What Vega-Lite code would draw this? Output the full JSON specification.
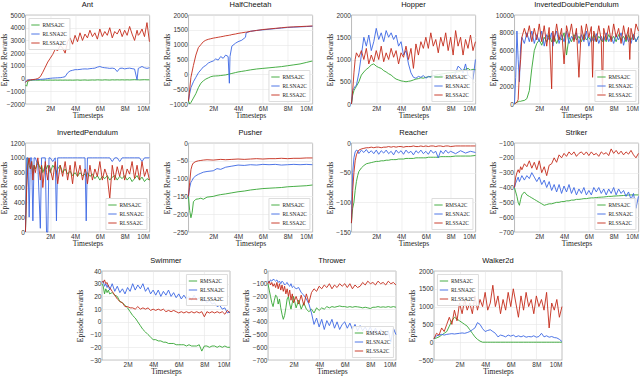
{
"$schema":"https://vega.github.io/schema/vega-lite/v6.json",
"padding":{"left":0,"top":0,"right":2,"bottom":0},
"spacing":8,"center":true,
"resolve":{"scale":{"x":"independent","y":"independent","color":"independent"},"legend":{"color":"independent"}},
"config":{
"view":{"stroke":"#8a8a8a","strokeWidth":0.6},
"title":{"fontSize":7.5,"fontWeight":"normal","font":"Liberation Sans","offset":0,"color":"#111"},
"axis":{"labelFontSize":6.5,"labelFont":"Liberation Sans","labelColor":"#333","titleFont":"Liberation Serif","titleFontSize":7.5,"titleFontWeight":"normal","titleColor":"#222","gridColor":"#e6e6e6","gridWidth":0.6,"domain":false,"ticks":false,"labelPadding":1,"titlePadding":0},
"axisY":{"minExtent":17,"maxExtent":17,"labelPadding":1,"titlePadding":0},
"legend":{"labelFont":"Liberation Serif","labelFontSize":5.5,"labelColor":"#222","symbolType":"stroke","symbolSize":70,"symbolStrokeWidth":1.3,"rowPadding":0,"padding":2,"offset":3,"labelOffset":2,"fillColor":"rgba(255,255,255,0.85)","strokeColor":"#ddd"},
"line":{"strokeWidth":0.9}
},
"datasets":{
"ant":[{"x":0,"m":-500,"n":-300,"s":-300},{"x":0.1,"m":-600,"n":-150,"s":-200},{"x":0.2,"m":-200,"n":-100,"s":-150},{"x":0.4,"m":-150,"n":-100,"s":-100},{"x":0.6,"m":-120,"n":-100,"s":-80},{"x":0.8,"m":-120,"n":-90,"s":-50},{"x":1,"m":-130,"n":-80,"s":0},{"x":1.2,"m":-120,"n":-60,"s":150},{"x":1.4,"m":-130,"n":-50,"s":500},{"x":1.6,"m":-120,"n":-30,"s":900},{"x":1.8,"m":-130,"n":0,"s":1300},{"x":2,"m":-120,"n":20,"s":1600},{"x":2.2,"m":-130,"n":40,"s":1900},{"x":2.4,"m":-120,"n":50,"s":2300},{"x":2.6,"m":-130,"n":60,"s":2200},{"x":2.8,"m":-120,"n":70,"s":2600},{"x":3,"m":-130,"n":100,"s":2400},{"x":3.2,"m":-120,"n":150,"s":2000},{"x":3.4,"m":-130,"n":450,"s":2900},{"x":3.6,"m":-120,"n":600,"s":3200},{"x":3.8,"m":-130,"n":650,"s":2700},{"x":4,"m":-120,"n":700,"s":3400},{"x":4.2,"m":-110,"n":700,"s":2900},{"x":4.4,"m":-130,"n":720,"s":3600},{"x":4.6,"m":-120,"n":750,"s":3000},{"x":4.8,"m":-110,"n":760,"s":3500},{"x":5,"m":-130,"n":750,"s":3200},{"x":5.2,"m":-120,"n":780,"s":3800},{"x":5.4,"m":-110,"n":800,"s":3300},{"x":5.6,"m":-120,"n":820,"s":3600},{"x":5.8,"m":-100,"n":900,"s":3100},{"x":6,"m":-110,"n":950,"s":3900},{"x":6.2,"m":-120,"n":880,"s":3300},{"x":6.4,"m":-100,"n":850,"s":3700},{"x":6.6,"m":-110,"n":830,"s":3400},{"x":6.8,"m":-120,"n":800,"s":4000},{"x":7,"m":-100,"n":820,"s":3200},{"x":7.2,"m":-110,"n":780,"s":3700},{"x":7.4,"m":-100,"n":550,"s":3500},{"x":7.6,"m":-110,"n":800,"s":3900},{"x":7.8,"m":-100,"n":820,"s":3300},{"x":8,"m":-110,"n":760,"s":3800},{"x":8.2,"m":-100,"n":800,"s":3400},{"x":8.4,"m":-110,"n":820,"s":4100},{"x":8.6,"m":-100,"n":780,"s":3500},{"x":8.8,"m":-90,"n":750,"s":3000},{"x":9,"m":-100,"n":-100,"s":3800},{"x":9.1,"m":-100,"n":800,"s":3400},{"x":9.2,"m":-110,"n":850,"s":3500},{"x":9.4,"m":-100,"n":950,"s":3900},{"x":9.6,"m":-90,"n":850,"s":3300},{"x":9.8,"m":-100,"n":800,"s":4400},{"x":10,"m":-100,"n":850,"s":2900}],
"hc":[{"x":0,"m":-900,"n":-900,"s":-900},{"x":0.1,"m":-1000,"n":-650,"s":-500},{"x":0.2,"m":-950,"n":-450,"s":-100},{"x":0.4,"m":-800,"n":-250,"s":300},{"x":0.6,"m":-650,"n":-100,"s":650},{"x":0.8,"m":-450,"n":50,"s":900},{"x":1,"m":-300,"n":150,"s":1000},{"x":1.2,"m":-220,"n":250,"s":1100},{"x":1.4,"m":-160,"n":300,"s":1150},{"x":1.6,"m":-120,"n":380,"s":1180},{"x":1.8,"m":-80,"n":420,"s":1200},{"x":2,"m":-60,"n":450,"s":1220},{"x":2.2,"m":-55,"n":520,"s":1235},{"x":2.4,"m":-50,"n":480,"s":1250},{"x":2.6,"m":-40,"n":600,"s":1265},{"x":2.8,"m":-30,"n":540,"s":1280},{"x":3,"m":-20,"n":650,"s":1300},{"x":3.2,"m":0,"n":600,"s":1310},{"x":3.3,"m":10,"n":-300,"s":1320},{"x":3.35,"m":15,"n":600,"s":1320},{"x":3.5,"m":30,"n":950,"s":1340},{"x":3.8,"m":60,"n":1050,"s":1360},{"x":4,"m":80,"n":1100,"s":1380},{"x":4.3,"m":100,"n":1150,"s":1400},{"x":4.6,"m":120,"n":1250,"s":1420},{"x":4.65,"m":125,"n":1400,"s":1420},{"x":5,"m":150,"n":1450,"s":1450},{"x":5.5,"m":180,"n":1480,"s":1480},{"x":6,"m":200,"n":1500,"s":1510},{"x":6.5,"m":220,"n":1520,"s":1530},{"x":7,"m":240,"n":1540,"s":1550},{"x":7.5,"m":260,"n":1560,"s":1570},{"x":8,"m":290,"n":1580,"s":1590},{"x":8.5,"m":320,"n":1590,"s":1600},{"x":9,"m":350,"n":1600,"s":1610},{"x":9.5,"m":400,"n":1610,"s":1620},{"x":10,"m":450,"n":1620,"s":1630}],
"hop":[{"x":0,"m":0,"n":0,"s":0},{"x":0.1,"m":200,"n":300,"s":300},{"x":0.2,"m":300,"n":350,"s":700},{"x":0.3,"m":350,"n":400,"s":1000},{"x":0.4,"m":400,"n":420,"s":1150},{"x":0.6,"m":500,"n":700,"s":1050},{"x":0.8,"m":650,"n":1100,"s":1200},{"x":1,"m":720,"n":1500,"s":1000},{"x":1.2,"m":780,"n":1300,"s":1250},{"x":1.4,"m":820,"n":1550,"s":900},{"x":1.6,"m":880,"n":1200,"s":1100},{"x":1.8,"m":900,"n":1400,"s":950},{"x":2,"m":850,"n":1700,"s":1200},{"x":2.2,"m":820,"n":1450,"s":1000},{"x":2.4,"m":800,"n":1600,"s":1300},{"x":2.6,"m":750,"n":1400,"s":950},{"x":2.8,"m":720,"n":1650,"s":1150},{"x":3,"m":680,"n":1500,"s":1000},{"x":3.2,"m":650,"n":1600,"s":1250},{"x":3.4,"m":600,"n":1450,"s":1050},{"x":3.6,"m":560,"n":1550,"s":1200},{"x":3.8,"m":540,"n":1300,"s":900},{"x":4,"m":520,"n":1400,"s":1150},{"x":4.2,"m":510,"n":1100,"s":1050},{"x":4.4,"m":500,"n":1200,"s":1300},{"x":4.6,"m":510,"n":900,"s":1000},{"x":4.8,"m":520,"n":700,"s":1250},{"x":5,"m":540,"n":600,"s":800},{"x":5.2,"m":560,"n":580,"s":1350},{"x":5.4,"m":570,"n":620,"s":1100},{"x":5.6,"m":590,"n":600,"s":1400},{"x":5.8,"m":580,"n":640,"s":1250},{"x":6,"m":600,"n":580,"s":1500},{"x":6.2,"m":610,"n":620,"s":1250},{"x":6.4,"m":620,"n":600,"s":1600},{"x":6.6,"m":630,"n":640,"s":1300},{"x":6.8,"m":650,"n":620,"s":1450},{"x":7,"m":660,"n":600,"s":1150},{"x":7.2,"m":670,"n":640,"s":1500},{"x":7.4,"m":680,"n":620,"s":1300},{"x":7.6,"m":690,"n":560,"s":1600},{"x":7.8,"m":700,"n":580,"s":1200},{"x":8,"m":700,"n":550,"s":1500},{"x":8.2,"m":710,"n":600,"s":1100},{"x":8.4,"m":720,"n":700,"s":1650},{"x":8.6,"m":720,"n":850,"s":1300},{"x":8.8,"m":740,"n":800,"s":1500},{"x":9,"m":760,"n":700,"s":1100},{"x":9.2,"m":780,"n":900,"s":1450},{"x":9.4,"m":800,"n":650,"s":1250},{"x":9.6,"m":760,"n":600,"s":1550},{"x":9.8,"m":780,"n":550,"s":1200},{"x":10,"m":770,"n":1000,"s":1400}],
"idp":[{"x":0,"m":0,"n":0,"s":0},{"x":0.1,"m":100,"n":3000,"s":100},{"x":0.2,"m":200,"n":8200,"s":200},{"x":0.3,"m":250,"n":5000,"s":500},{"x":0.4,"m":300,"n":2500,"s":3500},{"x":0.5,"m":300,"n":6500,"s":5000},{"x":0.6,"m":350,"n":7500,"s":7500},{"x":0.8,"m":400,"n":6800,"s":8500},{"x":1,"m":600,"n":8000,"s":7500},{"x":1.2,"m":1500,"n":7000,"s":8800},{"x":1.4,"m":4000,"n":8200,"s":7000},{"x":1.6,"m":6000,"n":6800,"s":8500},{"x":1.8,"m":6800,"n":7800,"s":7200},{"x":2,"m":7200,"n":7000,"s":9000},{"x":2.2,"m":6600,"n":8200,"s":7000},{"x":2.4,"m":7500,"n":6500,"s":8800},{"x":2.6,"m":7000,"n":7800,"s":6500},{"x":2.8,"m":7800,"n":7200,"s":8600},{"x":3,"m":7000,"n":8000,"s":1700},{"x":3.1,"m":7200,"n":6500,"s":8200},{"x":3.2,"m":7600,"n":7500,"s":7000},{"x":3.4,"m":6800,"n":8200,"s":9000},{"x":3.6,"m":7500,"n":6800,"s":7200},{"x":3.8,"m":7200,"n":7800,"s":8500},{"x":4,"m":8000,"n":7000,"s":4500},{"x":4.2,"m":5500,"n":8200,"s":8800},{"x":4.4,"m":7500,"n":6800,"s":7500},{"x":4.6,"m":7000,"n":7600,"s":9000},{"x":4.8,"m":7800,"n":7200,"s":7000},{"x":5,"m":7200,"n":8000,"s":8500},{"x":5.2,"m":7600,"n":6800,"s":3000},{"x":5.4,"m":7000,"n":7800,"s":8800},{"x":5.6,"m":7800,"n":7000,"s":7200},{"x":5.8,"m":7200,"n":8200,"s":9000},{"x":6,"m":7500,"n":6500,"s":7500},{"x":6.2,"m":7000,"n":7600,"s":8700},{"x":6.3,"m":7400,"n":7200,"s":3000},{"x":6.4,"m":7800,"n":7000,"s":8200},{"x":6.6,"m":7000,"n":7900,"s":7000},{"x":6.8,"m":7600,"n":6800,"s":8800},{"x":7,"m":7200,"n":7600,"s":7200},{"x":7.1,"m":7000,"n":7200,"s":1200},{"x":7.2,"m":7600,"n":7000,"s":8500},{"x":7.4,"m":7000,"n":8000,"s":7200},{"x":7.6,"m":7800,"n":7000,"s":8800},{"x":7.8,"m":7200,"n":7600,"s":7000},{"x":8,"m":7600,"n":6800,"s":9000},{"x":8.2,"m":7000,"n":7800,"s":7500},{"x":8.4,"m":7800,"n":7200,"s":8500},{"x":8.6,"m":7200,"n":8000,"s":6800},{"x":8.8,"m":7600,"n":6600,"s":8800},{"x":9,"m":7000,"n":7800,"s":7200},{"x":9.2,"m":7800,"n":7000,"s":8600},{"x":9.3,"m":7400,"n":7400,"s":5000},{"x":9.4,"m":7200,"n":6800,"s":8500},{"x":9.6,"m":7800,"n":7800,"s":7200},{"x":9.8,"m":7000,"n":7000,"s":9000},{"x":10,"m":7600,"n":7600,"s":8200}],
"ip":[{"x":0,"m":0,"n":0,"s":0},{"x":0.1,"m":700,"n":1000,"s":600},{"x":0.2,"m":1000,"n":1000,"s":900},{"x":0.3,"m":900,"n":200,"s":1000},{"x":0.4,"m":850,"n":1000,"s":850},{"x":0.5,"m":950,"n":1000,"s":950},{"x":0.6,"m":800,"n":150,"s":700},{"x":0.7,"m":900,"n":1000,"s":900},{"x":0.8,"m":850,"n":1000,"s":800},{"x":1,"m":950,"n":900,"s":1000},{"x":1.2,"m":850,"n":50,"s":700},{"x":1.3,"m":900,"n":1000,"s":900},{"x":1.4,"m":800,"n":1000,"s":600},{"x":1.6,"m":900,"n":1000,"s":950},{"x":1.7,"m":850,"n":0,"s":800},{"x":1.8,"m":900,"n":0,"s":700},{"x":1.9,"m":850,"n":1000,"s":900},{"x":2,"m":800,"n":1000,"s":850},{"x":2.2,"m":900,"n":950,"s":700},{"x":2.4,"m":850,"n":1000,"s":950},{"x":2.5,"m":800,"n":150,"s":800},{"x":2.6,"m":850,"n":1000,"s":650},{"x":2.8,"m":900,"n":1000,"s":900},{"x":3,"m":800,"n":1000,"s":750},{"x":3.2,"m":850,"n":1000,"s":950},{"x":3.4,"m":780,"n":1000,"s":700},{"x":3.6,"m":820,"n":1000,"s":900},{"x":3.8,"m":760,"n":1000,"s":650},{"x":4,"m":800,"n":1000,"s":950},{"x":4.2,"m":750,"n":1000,"s":750},{"x":4.4,"m":800,"n":1000,"s":900},{"x":4.6,"m":760,"n":1000,"s":700},{"x":4.8,"m":780,"n":1000,"s":850},{"x":4.9,"m":750,"n":150,"s":800},{"x":5,"m":800,"n":1000,"s":650},{"x":5.2,"m":750,"n":1000,"s":900},{"x":5.4,"m":780,"n":1000,"s":700},{"x":5.6,"m":720,"n":1000,"s":850},{"x":5.8,"m":760,"n":1000,"s":750},{"x":6,"m":700,"n":1000,"s":950},{"x":6.2,"m":750,"n":1000,"s":700},{"x":6.4,"m":720,"n":1000,"s":850},{"x":6.6,"m":760,"n":1000,"s":750},{"x":6.8,"m":700,"n":1000,"s":450},{"x":7,"m":740,"n":950,"s":900},{"x":7.2,"m":760,"n":1000,"s":700},{"x":7.4,"m":700,"n":1000,"s":880},{"x":7.6,"m":750,"n":950,"s":750},{"x":7.8,"m":720,"n":1000,"s":900},{"x":8,"m":760,"n":1000,"s":700},{"x":8.2,"m":700,"n":1000,"s":850},{"x":8.4,"m":740,"n":1000,"s":780},{"x":8.6,"m":680,"n":1000,"s":950},{"x":8.8,"m":720,"n":1000,"s":720},{"x":9,"m":760,"n":1000,"s":900},{"x":9.2,"m":700,"n":1000,"s":700},{"x":9.4,"m":740,"n":950,"s":950},{"x":9.6,"m":680,"n":1000,"s":750},{"x":9.8,"m":720,"n":1000,"s":850},{"x":10,"m":700,"n":1000,"s":700}],
"push":[{"x":0,"m":-150,"n":-150,"s":-150},{"x":0.1,"m":-190,"n":-125,"s":-110},{"x":0.2,"m":-210,"n":-110,"s":-75},{"x":0.3,"m":-195,"n":-105,"s":-62},{"x":0.4,"m":-165,"n":-98,"s":-56},{"x":0.6,"m":-158,"n":-92,"s":-52},{"x":0.8,"m":-157,"n":-88,"s":-50},{"x":1,"m":-155,"n":-85,"s":-49},{"x":1.2,"m":-158,"n":-82,"s":-48},{"x":1.5,"m":-152,"n":-80,"s":-47},{"x":2,"m":-150,"n":-78,"s":-48},{"x":2.3,"m":-147,"n":-72,"s":-47},{"x":2.6,"m":-145,"n":-74,"s":-46},{"x":3,"m":-143,"n":-68,"s":-47},{"x":3.5,"m":-140,"n":-65,"s":-46},{"x":4,"m":-137,"n":-62,"s":-45},{"x":4.5,"m":-135,"n":-63,"s":-46},{"x":5,"m":-132,"n":-61,"s":-45},{"x":5.5,"m":-130,"n":-62,"s":-44},{"x":6,"m":-128,"n":-60,"s":-45},{"x":6.5,"m":-127,"n":-61,"s":-44},{"x":7,"m":-126,"n":-60,"s":-44},{"x":7.5,"m":-125,"n":-62,"s":-43},{"x":8,"m":-123,"n":-61,"s":-44},{"x":8.5,"m":-122,"n":-60,"s":-43},{"x":9,"m":-121,"n":-61,"s":-43},{"x":9.5,"m":-120,"n":-60,"s":-42},{"x":10,"m":-118,"n":-61,"s":-42}],
"reach":[{"x":0,"m":-135,"n":-135,"s":-135},{"x":0.05,"m":-120,"n":-90,"s":-110},{"x":0.1,"m":-110,"n":-50,"s":-80},{"x":0.2,"m":-100,"n":-25,"s":-50},{"x":0.3,"m":-80,"n":-15,"s":-30},{"x":0.4,"m":-65,"n":-12,"s":-20},{"x":0.5,"m":-55,"n":-13,"s":-15},{"x":0.6,"m":-48,"n":-18,"s":-12},{"x":0.8,"m":-42,"n":-12,"s":-10},{"x":1,"m":-38,"n":-16,"s":-9},{"x":1.2,"m":-35,"n":-11,"s":-8},{"x":1.4,"m":-34,"n":-17,"s":-8},{"x":1.6,"m":-33,"n":-13,"s":-7},{"x":1.8,"m":-32,"n":-18,"s":-8},{"x":2,"m":-31,"n":-12,"s":-7},{"x":2.2,"m":-31,"n":-19,"s":-7},{"x":2.4,"m":-30,"n":-13,"s":-8},{"x":2.6,"m":-30,"n":-17,"s":-7},{"x":2.8,"m":-29,"n":-12,"s":-7},{"x":3,"m":-29,"n":-18,"s":-6},{"x":3.2,"m":-28,"n":-14,"s":-7},{"x":3.4,"m":-28,"n":-20,"s":-6},{"x":3.6,"m":-28,"n":-12,"s":-7},{"x":3.8,"m":-27,"n":-17,"s":-6},{"x":4,"m":-27,"n":-13,"s":-6},{"x":4.2,"m":-27,"n":-19,"s":-7},{"x":4.4,"m":-26,"n":-12,"s":-6},{"x":4.6,"m":-26,"n":-17,"s":-6},{"x":4.8,"m":-26,"n":-14,"s":-6},{"x":5,"m":-26,"n":-20,"s":-5},{"x":5.2,"m":-25,"n":-13,"s":-6},{"x":5.4,"m":-25,"n":-17,"s":-6},{"x":5.6,"m":-25,"n":-12,"s":-5},{"x":5.8,"m":-25,"n":-18,"s":-6},{"x":6,"m":-25,"n":-14,"s":-5},{"x":6.2,"m":-24,"n":-19,"s":-6},{"x":6.4,"m":-24,"n":-12,"s":-5},{"x":6.6,"m":-24,"n":-17,"s":-5},{"x":6.8,"m":-24,"n":-14,"s":-6},{"x":7,"m":-24,"n":-25,"s":-5},{"x":7.2,"m":-23,"n":-13,"s":-5},{"x":7.4,"m":-23,"n":-18,"s":-6},{"x":7.6,"m":-23,"n":-12,"s":-5},{"x":7.8,"m":-23,"n":-17,"s":-5},{"x":8,"m":-23,"n":-14,"s":-6},{"x":8.4,"m":-22,"n":-18,"s":-5},{"x":8.8,"m":-22,"n":-13,"s":-5},{"x":9.2,"m":-22,"n":-17,"s":-5},{"x":9.6,"m":-22,"n":-14,"s":-5},{"x":10,"m":-21,"n":-16,"s":-5}],
"strike":[{"x":0,"m":-400,"n":-400,"s":-400},{"x":0.1,"m":-430,"n":-370,"s":-330},{"x":0.2,"m":-460,"n":-350,"s":-300},{"x":0.3,"m":-500,"n":-330,"s":-280},{"x":0.4,"m":-520,"n":-360,"s":-300},{"x":0.5,"m":-480,"n":-340,"s":-260},{"x":0.6,"m":-450,"n":-320,"s":-280},{"x":0.8,"m":-430,"n":-350,"s":-240},{"x":1,"m":-450,"n":-320,"s":-260},{"x":1.2,"m":-460,"n":-340,"s":-220},{"x":1.4,"m":-470,"n":-300,"s":-270},{"x":1.6,"m":-480,"n":-330,"s":-230},{"x":1.8,"m":-490,"n":-360,"s":-280},{"x":2,"m":-500,"n":-330,"s":-220},{"x":2.2,"m":-510,"n":-380,"s":-300},{"x":2.4,"m":-520,"n":-350,"s":-260},{"x":2.6,"m":-515,"n":-400,"s":-320},{"x":2.8,"m":-510,"n":-360,"s":-250},{"x":3,"m":-510,"n":-420,"s":-240},{"x":3.2,"m":-505,"n":-380,"s":-200},{"x":3.4,"m":-500,"n":-430,"s":-230},{"x":3.6,"m":-500,"n":-380,"s":-180},{"x":3.8,"m":-495,"n":-440,"s":-200},{"x":4,"m":-495,"n":-390,"s":-170},{"x":4.2,"m":-490,"n":-430,"s":-190},{"x":4.4,"m":-490,"n":-380,"s":-160},{"x":4.6,"m":-485,"n":-440,"s":-180},{"x":4.8,"m":-485,"n":-400,"s":-160},{"x":5,"m":-480,"n":-450,"s":-190},{"x":5.2,"m":-480,"n":-410,"s":-170},{"x":5.4,"m":-478,"n":-440,"s":-160},{"x":5.6,"m":-475,"n":-400,"s":-180},{"x":5.8,"m":-475,"n":-450,"s":-160},{"x":6,"m":-472,"n":-420,"s":-185},{"x":6.2,"m":-470,"n":-450,"s":-160},{"x":6.4,"m":-470,"n":-400,"s":-180},{"x":6.6,"m":-468,"n":-430,"s":-170},{"x":6.8,"m":-466,"n":-400,"s":-190},{"x":7,"m":-465,"n":-440,"s":-160},{"x":7.2,"m":-464,"n":-410,"s":-175},{"x":7.4,"m":-462,"n":-450,"s":-165},{"x":7.6,"m":-460,"n":-410,"s":-185},{"x":7.8,"m":-460,"n":-440,"s":-140},{"x":8,"m":-458,"n":-400,"s":-170},{"x":8.2,"m":-457,"n":-450,"s":-150},{"x":8.4,"m":-456,"n":-410,"s":-175},{"x":8.6,"m":-455,"n":-440,"s":-155},{"x":8.8,"m":-454,"n":-420,"s":-180},{"x":9,"m":-452,"n":-460,"s":-160},{"x":9.2,"m":-451,"n":-430,"s":-175},{"x":9.4,"m":-450,"n":-480,"s":-150},{"x":9.6,"m":-450,"n":-440,"s":-180},{"x":9.8,"m":-450,"n":-540,"s":-200},{"x":10,"m":-450,"n":-460,"s":-170}],
"swim":[{"x":0,"m":30,"n":31,"s":32},{"x":0.1,"m":28,"n":32,"s":31},{"x":0.2,"m":22,"n":28,"s":33},{"x":0.3,"m":26,"n":30,"s":30},{"x":0.4,"m":23,"n":27,"s":31},{"x":0.5,"m":25,"n":29,"s":28},{"x":0.6,"m":22,"n":25,"s":27},{"x":0.8,"m":23,"n":30,"s":24},{"x":1,"m":21,"n":24,"s":21},{"x":1.2,"m":20,"n":28,"s":18},{"x":1.4,"m":16,"n":23,"s":16},{"x":1.6,"m":15,"n":26,"s":15},{"x":1.8,"m":13,"n":22,"s":12},{"x":2,"m":11,"n":27,"s":12},{"x":2.2,"m":8,"n":24,"s":11},{"x":2.4,"m":5,"n":30,"s":11},{"x":2.6,"m":3,"n":25,"s":10},{"x":2.8,"m":0,"n":29,"s":12},{"x":3,"m":-3,"n":26,"s":10},{"x":3.2,"m":-6,"n":30,"s":11},{"x":3.4,"m":-8,"n":24,"s":10},{"x":3.6,"m":-10,"n":27,"s":11},{"x":3.8,"m":-12,"n":22,"s":9},{"x":4,"m":-14,"n":25,"s":10},{"x":4.2,"m":-14,"n":21,"s":9},{"x":4.4,"m":-15,"n":25,"s":10},{"x":4.6,"m":-15,"n":20,"s":9},{"x":4.8,"m":-16,"n":24,"s":10},{"x":5,"m":-16,"n":21,"s":8},{"x":5.2,"m":-17,"n":25,"s":9},{"x":5.4,"m":-17,"n":20,"s":8},{"x":5.6,"m":-17,"n":23,"s":9},{"x":5.8,"m":-18,"n":19,"s":8},{"x":6,"m":-18,"n":22,"s":7},{"x":6.2,"m":-18,"n":18,"s":8},{"x":6.4,"m":-18,"n":21,"s":7},{"x":6.6,"m":-19,"n":18,"s":8},{"x":6.8,"m":-18,"n":20,"s":7},{"x":7,"m":-19,"n":17,"s":8},{"x":7.2,"m":-19,"n":21,"s":7},{"x":7.4,"m":-19,"n":17,"s":8},{"x":7.6,"m":-18,"n":19,"s":7},{"x":7.8,"m":-23,"n":16,"s":8},{"x":8,"m":-19,"n":18,"s":4},{"x":8.2,"m":-19,"n":15,"s":8},{"x":8.4,"m":-20,"n":17,"s":7},{"x":8.6,"m":-19,"n":14,"s":8},{"x":8.8,"m":-19,"n":15,"s":7},{"x":9,"m":-20,"n":12,"s":8},{"x":9.2,"m":-19,"n":13,"s":7},{"x":9.4,"m":-20,"n":10,"s":8},{"x":9.6,"m":-19,"n":11,"s":6},{"x":9.8,"m":-20,"n":7,"s":9},{"x":10,"m":-20,"n":8,"s":7}],
"throw":[{"x":0,"m":-100,"n":-80,"s":-100},{"x":0.1,"m":-150,"n":-90,"s":-80},{"x":0.2,"m":-200,"n":-70,"s":-110},{"x":0.3,"m":-250,"n":-80,"s":-90},{"x":0.4,"m":-280,"n":-65,"s":-120},{"x":0.5,"m":-230,"n":-70,"s":-100},{"x":0.6,"m":-190,"n":-80,"s":-130},{"x":0.7,"m":-200,"n":-70,"s":-90},{"x":0.8,"m":-260,"n":-90,"s":-140},{"x":0.9,"m":-220,"n":-80,"s":-100},{"x":1,"m":-290,"n":-100,"s":-150},{"x":1.1,"m":-340,"n":-80,"s":-110},{"x":1.2,"m":-380,"n":-90,"s":-160},{"x":1.3,"m":-350,"n":-110,"s":-120},{"x":1.4,"m":-290,"n":-100,"s":-180},{"x":1.5,"m":-220,"n":-90,"s":-140},{"x":1.6,"m":-200,"n":-110,"s":-200},{"x":1.7,"m":-260,"n":-120,"s":-150},{"x":1.8,"m":-300,"n":-100,"s":-230},{"x":1.9,"m":-250,"n":-130,"s":-180},{"x":2,"m":-200,"n":-120,"s":-250},{"x":2.2,"m":-290,"n":-140,"s":-200},{"x":2.4,"m":-230,"n":-130,"s":-260},{"x":2.6,"m":-300,"n":-170,"s":-190},{"x":2.8,"m":-250,"n":-190,"s":-270},{"x":3,"m":-300,"n":-220,"s":-180},{"x":3.2,"m":-320,"n":-260,"s":-250},{"x":3.4,"m":-300,"n":-330,"s":-170},{"x":3.6,"m":-330,"n":-420,"s":-140},{"x":3.8,"m":-290,"n":-370,"s":-160},{"x":4,"m":-310,"n":-440,"s":-120},{"x":4.2,"m":-290,"n":-380,"s":-140},{"x":4.4,"m":-300,"n":-460,"s":-110},{"x":4.6,"m":-280,"n":-390,"s":-130},{"x":4.8,"m":-290,"n":-430,"s":-100},{"x":5,"m":-280,"n":-380,"s":-140},{"x":5.2,"m":-285,"n":-450,"s":-110},{"x":5.4,"m":-280,"n":-400,"s":-130},{"x":5.6,"m":-275,"n":-460,"s":-100},{"x":5.8,"m":-280,"n":-420,"s":-120},{"x":6,"m":-280,"n":-400,"s":-100},{"x":6.2,"m":-285,"n":-450,"s":-130},{"x":6.4,"m":-280,"n":-410,"s":-100},{"x":6.6,"m":-285,"n":-460,"s":-140},{"x":6.8,"m":-280,"n":-420,"s":-110},{"x":7,"m":-282,"n":-470,"s":-130},{"x":7.2,"m":-285,"n":-430,"s":-120},{"x":7.4,"m":-290,"n":-470,"s":-90},{"x":7.6,"m":-285,"n":-440,"s":-110},{"x":7.8,"m":-290,"n":-480,"s":-80},{"x":8,"m":-295,"n":-440,"s":-100},{"x":8.2,"m":-285,"n":-490,"s":-90},{"x":8.4,"m":-285,"n":-450,"s":-110},{"x":8.6,"m":-280,"n":-500,"s":-80},{"x":8.8,"m":-285,"n":-460,"s":-100},{"x":9,"m":-282,"n":-480,"s":-90},{"x":9.2,"m":-285,"n":-510,"s":-110},{"x":9.4,"m":-280,"n":-470,"s":-80},{"x":9.6,"m":-285,"n":-560,"s":-100},{"x":9.8,"m":-280,"n":-450,"s":-90},{"x":10,"m":-285,"n":-500,"s":-110}],
"walk":[{"x":0,"m":100,"n":100,"s":100},{"x":0.2,"m":120,"n":180,"s":250},{"x":0.4,"m":150,"n":200,"s":200},{"x":0.6,"m":200,"n":220,"s":400},{"x":0.8,"m":250,"n":200,"s":300},{"x":1,"m":300,"n":220,"s":500},{"x":1.2,"m":450,"n":230,"s":700},{"x":1.4,"m":600,"n":240,"s":500},{"x":1.6,"m":700,"n":230,"s":900},{"x":1.8,"m":650,"n":240,"s":600},{"x":2,"m":600,"n":250,"s":1100},{"x":2.2,"m":550,"n":260,"s":800},{"x":2.4,"m":500,"n":250,"s":1200},{"x":2.6,"m":450,"n":270,"s":900},{"x":2.8,"m":350,"n":300,"s":1100},{"x":3,"m":250,"n":350,"s":800},{"x":3.2,"m":150,"n":400,"s":1300},{"x":3.4,"m":80,"n":550,"s":900},{"x":3.6,"m":30,"n":500,"s":1200},{"x":3.8,"m":0,"n":380,"s":1000},{"x":4,"m":0,"n":300,"s":1400},{"x":4.2,"m":0,"n":330,"s":900},{"x":4.4,"m":0,"n":350,"s":1100},{"x":4.6,"m":0,"n":300,"s":1600},{"x":4.8,"m":0,"n":250,"s":1000},{"x":5,"m":0,"n":150,"s":1300},{"x":5.2,"m":0,"n":200,"s":800},{"x":5.4,"m":0,"n":180,"s":1200},{"x":5.6,"m":0,"n":150,"s":900},{"x":5.8,"m":0,"n":200,"s":1400},{"x":6,"m":0,"n":170,"s":1000},{"x":6.2,"m":0,"n":200,"s":1500},{"x":6.4,"m":0,"n":150,"s":1100},{"x":6.6,"m":0,"n":180,"s":700},{"x":6.8,"m":0,"n":150,"s":1300},{"x":7,"m":0,"n":180,"s":900},{"x":7.2,"m":0,"n":140,"s":1400},{"x":7.4,"m":0,"n":160,"s":1000},{"x":7.6,"m":0,"n":150,"s":1200},{"x":7.8,"m":0,"n":180,"s":800},{"x":8,"m":0,"n":140,"s":1300},{"x":8.2,"m":0,"n":160,"s":1000},{"x":8.4,"m":0,"n":250,"s":1200},{"x":8.6,"m":0,"n":150,"s":900},{"x":8.8,"m":0,"n":180,"s":1400},{"x":9,"m":0,"n":140,"s":400},{"x":9.2,"m":0,"n":160,"s":1100},{"x":9.4,"m":0,"n":130,"s":900},{"x":9.6,"m":0,"n":120,"s":1200},{"x":9.8,"m":0,"n":80,"s":700},{"x":10,"m":0,"n":20,"s":1000}]
},
"vconcat":[
{"hconcat":[
{"title":"Ant","data":{"name":"ant"},"width":124,"height":89,"transform":[{"fold":["m","n","s"],"as":["k","y"]}],"mark":"line","encoding":{"x":{"field":"x","type":"quantitative","scale":{"domain":[0,10]},"axis":{"values":[2,4,6,8,10],"labelExpr":"datum.value+'M'","title":"Timesteps"}},"y":{"field":"y","type":"quantitative","scale":{"domain":[-2000,5000]},"axis":{"values":[-2000,-1000,0,1000,2000,3000,4000,5000],"format":"d","title":"Episode Rewards"}},"color":{"field":"k","type":"nominal","scale":{"domain":["m","n","s"],"range":["#33a532","#3b66e3","#c42a1a"]},"legend":{"title":null,"orient":"top-left","labelExpr":"datum.label=='m'?'RMSA2C':datum.label=='n'?'RLSNA2C':'RLSSA2C'"}}}},
{"title":"HalfCheetah","data":{"name":"hc"},"width":124,"height":89,"transform":[{"fold":["m","n","s"],"as":["k","y"]}],"mark":"line","encoding":{"x":{"field":"x","type":"quantitative","scale":{"domain":[0,10]},"axis":{"values":[2,4,6,8,10],"labelExpr":"datum.value+'M'","title":"Timesteps"}},"y":{"field":"y","type":"quantitative","scale":{"domain":[-1000,2000]},"axis":{"values":[-1000,-500,0,500,1000,1500,2000],"format":"d","title":"Episode Rewards"}},"color":{"field":"k","type":"nominal","scale":{"domain":["m","n","s"],"range":["#33a532","#3b66e3","#c42a1a"]},"legend":{"title":null,"orient":"bottom-right","labelExpr":"datum.label=='m'?'RMSA2C':datum.label=='n'?'RLSNA2C':'RLSSA2C'"}}}},
{"title":"Hopper","data":{"name":"hop"},"width":124,"height":89,"transform":[{"fold":["m","n","s"],"as":["k","y"]}],"mark":"line","encoding":{"x":{"field":"x","type":"quantitative","scale":{"domain":[0,10]},"axis":{"values":[2,4,6,8,10],"labelExpr":"datum.value+'M'","title":"Timesteps"}},"y":{"field":"y","type":"quantitative","scale":{"domain":[0,2000]},"axis":{"values":[0,500,1000,1500,2000],"format":"d","title":"Episode Rewards"}},"color":{"field":"k","type":"nominal","scale":{"domain":["m","n","s"],"range":["#33a532","#3b66e3","#c42a1a"]},"legend":{"title":null,"orient":"bottom-right","labelExpr":"datum.label=='m'?'RMSA2C':datum.label=='n'?'RLSNA2C':'RLSSA2C'"}}}},
{"title":"InvertedDoublePendulum","data":{"name":"idp"},"width":124,"height":89,"transform":[{"fold":["m","n","s"],"as":["k","y"]}],"mark":"line","encoding":{"x":{"field":"x","type":"quantitative","scale":{"domain":[0,10]},"axis":{"values":[2,4,6,8,10],"labelExpr":"datum.value+'M'","title":"Timesteps"}},"y":{"field":"y","type":"quantitative","scale":{"domain":[0,10000]},"axis":{"values":[0,2000,4000,6000,8000,10000],"format":"d","title":"Episode Rewards"}},"color":{"field":"k","type":"nominal","scale":{"domain":["m","n","s"],"range":["#33a532","#3b66e3","#c42a1a"]},"legend":{"title":null,"orient":"bottom-right","labelExpr":"datum.label=='m'?'RMSA2C':datum.label=='n'?'RLSNA2C':'RLSSA2C'"}}}}
],"spacing":10,"resolve":{"scale":{"x":"independent","y":"independent","color":"independent"},"legend":{"color":"independent"}}},
{"hconcat":[
{"title":"InvertedPendulum","data":{"name":"ip"},"width":124,"height":89,"transform":[{"fold":["m","n","s"],"as":["k","y"]}],"mark":"line","encoding":{"x":{"field":"x","type":"quantitative","scale":{"domain":[0,10]},"axis":{"values":[2,4,6,8,10],"labelExpr":"datum.value+'M'","title":"Timesteps"}},"y":{"field":"y","type":"quantitative","scale":{"domain":[0,1200]},"axis":{"values":[0,200,400,600,800,1000,1200],"format":"d","title":"Episode Rewards"}},"color":{"field":"k","type":"nominal","scale":{"domain":["m","n","s"],"range":["#33a532","#3b66e3","#c42a1a"]},"legend":{"title":null,"orient":"bottom-right","labelExpr":"datum.label=='m'?'RMSA2C':datum.label=='n'?'RLSNA2C':'RLSSA2C'"}}}},
{"title":"Pusher","data":{"name":"push"},"width":124,"height":89,"transform":[{"fold":["m","n","s"],"as":["k","y"]}],"mark":"line","encoding":{"x":{"field":"x","type":"quantitative","scale":{"domain":[0,10]},"axis":{"values":[2,4,6,8,10],"labelExpr":"datum.value+'M'","title":"Timesteps"}},"y":{"field":"y","type":"quantitative","scale":{"domain":[-250,0]},"axis":{"values":[-250,-200,-150,-100,-50,0],"format":"d","title":"Episode Rewards"}},"color":{"field":"k","type":"nominal","scale":{"domain":["m","n","s"],"range":["#33a532","#3b66e3","#c42a1a"]},"legend":{"title":null,"orient":"bottom-right","labelExpr":"datum.label=='m'?'RMSA2C':datum.label=='n'?'RLSNA2C':'RLSSA2C'"}}}},
{"title":"Reacher","data":{"name":"reach"},"width":124,"height":89,"transform":[{"fold":["m","n","s"],"as":["k","y"]}],"mark":"line","encoding":{"x":{"field":"x","type":"quantitative","scale":{"domain":[0,10]},"axis":{"values":[2,4,6,8,10],"labelExpr":"datum.value+'M'","title":"Timesteps"}},"y":{"field":"y","type":"quantitative","scale":{"domain":[-150,0]},"axis":{"values":[-150,-100,-50,0],"format":"d","title":"Episode Rewards"}},"color":{"field":"k","type":"nominal","scale":{"domain":["m","n","s"],"range":["#33a532","#3b66e3","#c42a1a"]},"legend":{"title":null,"orient":"bottom-right","labelExpr":"datum.label=='m'?'RMSA2C':datum.label=='n'?'RLSNA2C':'RLSSA2C'"}}}},
{"title":"Striker","data":{"name":"strike"},"width":124,"height":89,"transform":[{"fold":["m","n","s"],"as":["k","y"]}],"mark":"line","encoding":{"x":{"field":"x","type":"quantitative","scale":{"domain":[0,10]},"axis":{"values":[2,4,6,8,10],"labelExpr":"datum.value+'M'","title":"Timesteps"}},"y":{"field":"y","type":"quantitative","scale":{"domain":[-700,-100]},"axis":{"values":[-700,-600,-500,-400,-300,-200,-100],"format":"d","title":"Episode Rewards"}},"color":{"field":"k","type":"nominal","scale":{"domain":["m","n","s"],"range":["#33a532","#3b66e3","#c42a1a"]},"legend":{"title":null,"orient":"bottom-right","labelExpr":"datum.label=='m'?'RMSA2C':datum.label=='n'?'RLSNA2C':'RLSSA2C'"}}}}
],"spacing":10,"resolve":{"scale":{"x":"independent","y":"independent","color":"independent"},"legend":{"color":"independent"}}},
{"hconcat":[
{"title":"Swimmer","data":{"name":"swim"},"width":128,"height":89,"transform":[{"fold":["m","n","s"],"as":["k","y"]}],"mark":"line","encoding":{"x":{"field":"x","type":"quantitative","scale":{"domain":[0,10]},"axis":{"values":[2,4,6,8,10],"labelExpr":"datum.value+'M'","title":"Timesteps"}},"y":{"field":"y","type":"quantitative","scale":{"domain":[-30,40]},"axis":{"values":[-30,-20,-10,0,10,20,30,40],"format":"d","title":"Episode Rewards"}},"color":{"field":"k","type":"nominal","scale":{"domain":["m","n","s"],"range":["#33a532","#3b66e3","#c42a1a"]},"legend":{"title":null,"orient":"top-right","labelExpr":"datum.label=='m'?'RMSA2C':datum.label=='n'?'RLSNA2C':'RLSSA2C'"}}}},
{"title":"Thrower","data":{"name":"throw"},"width":128,"height":89,"transform":[{"fold":["m","n","s"],"as":["k","y"]}],"mark":"line","encoding":{"x":{"field":"x","type":"quantitative","scale":{"domain":[0,10]},"axis":{"values":[2,4,6,8,10],"labelExpr":"datum.value+'M'","title":"Timesteps"}},"y":{"field":"y","type":"quantitative","scale":{"domain":[-700,0]},"axis":{"values":[-700,-600,-500,-400,-300,-200,-100,0],"format":"d","title":"Episode Rewards"}},"color":{"field":"k","type":"nominal","scale":{"domain":["m","n","s"],"range":["#33a532","#3b66e3","#c42a1a"]},"legend":{"title":null,"orient":"bottom-right","labelExpr":"datum.label=='m'?'RMSA2C':datum.label=='n'?'RLSNA2C':'RLSSA2C'"}}}},
{"title":"Walker2d","data":{"name":"walk"},"width":128,"height":89,"transform":[{"fold":["m","n","s"],"as":["k","y"]}],"mark":"line","encoding":{"x":{"field":"x","type":"quantitative","scale":{"domain":[0,10]},"axis":{"values":[2,4,6,8,10],"labelExpr":"datum.value+'M'","title":"Timesteps"}},"y":{"field":"y","type":"quantitative","scale":{"domain":[-500,2000]},"axis":{"values":[-500,0,500,1000,1500,2000],"format":"d","title":"Episode Rewards"}},"color":{"field":"k","type":"nominal","scale":{"domain":["m","n","s"],"range":["#33a532","#3b66e3","#c42a1a"]},"legend":{"title":null,"orient":"top-left","labelExpr":"datum.label=='m'?'RMSA2C':datum.label=='n'?'RLSNA2C':'RLSSA2C'"}}}}
],"spacing":9,"resolve":{"scale":{"x":"independent","y":"independent","color":"independent"},"legend":{"color":"independent"}}}
]
}
